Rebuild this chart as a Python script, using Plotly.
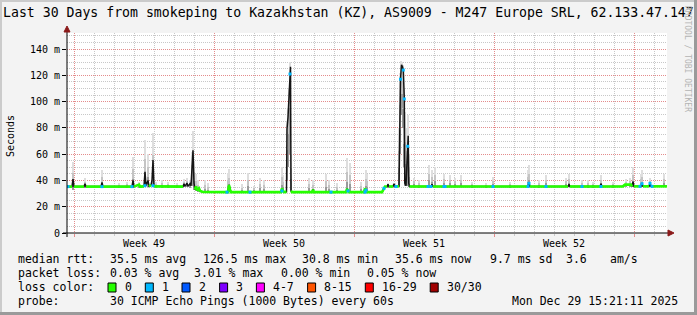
import plotly.graph_objects as go
import pandas as pd

# ---------------- data ----------------
START = pd.Timestamp("2025-11-29 15:21:11")
END = pd.Timestamp("2025-12-29 15:21:11")

# median rtt (ms) at time offsets (days since START)
med_days = [0.00, 0.25, 0.30, 0.35, 0.85, 0.90, 0.95, 1.70, 1.75, 1.80,
            3.25, 3.30, 3.35, 3.60, 3.65, 3.85, 3.90, 3.95, 4.05, 4.10,
            4.20, 4.25, 4.30, 4.35, 5.80, 5.85, 5.90, 6.00, 6.05, 6.15,
            6.20, 6.25, 6.30, 6.35, 6.40, 6.45, 6.50, 6.60, 6.65, 6.80,
            8.05, 8.10, 8.15, 8.20, 10.70, 10.75, 10.80, 10.85, 10.975, 11.00,
            11.05, 11.10, 11.15, 11.175, 11.20, 11.25, 12.25, 12.30, 12.35, 13.95,
            14.00, 14.05, 14.10, 14.85, 14.90, 14.95, 15.00, 15.75, 15.80, 15.85,
            15.90, 16.00, 16.05, 16.10, 16.30, 16.35, 16.40, 16.60, 16.625, 16.675,
            16.725, 16.775, 16.815, 16.865, 16.89, 16.95, 17.00, 17.035, 17.06, 17.085,
            17.125, 18.20, 18.25, 18.30, 23.05, 23.10, 23.15, 25.05, 25.10, 25.15,
            26.65, 26.70, 26.75, 27.80, 27.90, 28.20, 28.25, 28.30, 28.35, 28.70,
            28.75, 28.80, 29.10, 29.15, 29.20, 30.00]
med_ms = [35.3, 35.3, 41.0, 35.3, 35.3, 37.5, 35.3, 35.3, 38.5, 35.3,
          35.3, 40.0, 35.3, 36.8, 35.3, 35.5, 46.5, 36.0, 40.0, 35.5,
          36.5, 40.0, 55.5, 35.5, 35.3, 37.5, 35.5, 38.0, 35.5, 37.5,
          36.0, 47.0, 63.0, 38.0, 33.0, 35.5, 32.5, 34.0, 32.0, 31.2,
          31.1, 36.5, 33.0, 31.1, 31.1, 34.0, 32.0, 31.1, 31.3, 79.0,
          88.0, 102.0, 121.0, 126.5, 32.0, 31.1, 31.1, 33.0, 31.1, 31.1,
          33.5, 32.0, 31.1, 31.1, 34.0, 32.5, 31.1, 31.1, 32.5, 34.0,
          35.3, 35.4, 37.0, 35.4, 35.4, 37.5, 35.5, 35.5, 71.0, 117.0,
          128.0, 126.5, 124.0, 102.0, 38.0, 36.0, 54.0, 66.0, 74.0, 38.0,
          35.4, 35.4, 37.0, 35.4, 35.4, 37.8, 35.4, 35.4, 37.0, 35.4,
          35.4, 37.5, 35.4, 35.5, 36.8, 36.8, 35.5, 39.0, 35.5, 35.5,
          37.5, 35.5, 35.5, 37.8, 35.5, 35.5]

# smoke (spread of the 30 pings): low / high in ms
smoke_days = [0.30, 0.90, 1.75, 2.60, 3.00, 3.30, 3.60, 3.90, 4.05, 4.30,
              4.45, 4.75, 5.05, 5.50, 5.85, 6.00, 6.15, 6.25, 6.30, 6.35,
              6.45, 6.55, 6.90, 7.05, 8.05, 8.10, 8.75, 9.05, 9.35, 9.65,
              9.85, 10.75, 10.80, 11.00, 11.05, 11.10, 11.15, 11.175, 11.20, 12.10,
              12.30, 12.95, 13.10, 13.50, 14.00, 14.15, 14.70, 14.95, 15.00, 16.05,
              16.40, 16.625, 16.675, 16.725, 16.775, 16.815, 16.865, 16.90, 17.00, 17.06,
              17.10, 17.35, 17.60, 18.10, 18.25, 18.40, 18.85, 19.15, 19.40, 19.70,
              20.25, 20.95, 21.30, 22.15, 23.05, 23.10, 23.60, 23.95, 24.95, 25.10,
              25.75, 26.05, 26.30, 26.70, 27.30, 27.95, 28.15, 28.30, 28.70, 28.75,
              29.15, 29.85]
smoke_lo = [33, 34, 34, 35, 35, 34, 35, 35, 35, 35,
            35, 35, 35, 35, 35, 35, 35, 36, 38, 33,
            32, 31, 31, 31, 31, 32, 31, 31, 31, 31,
            31, 31, 31, 40, 50, 60, 75, 80, 33, 31,
            31, 31, 31, 31, 31, 31, 31, 31, 31, 35,
            35, 36, 60, 90, 95, 80, 50, 36, 36, 40,
            35, 35, 35, 35, 35, 35, 35, 35, 35, 35,
            35, 35, 35, 35, 35, 35, 35, 35, 35, 35,
            35, 35, 35, 35, 35, 35, 35, 35, 35, 35,
            35, 35]
smoke_hi = [54, 42, 48, 38, 38.5, 58, 39, 71, 60, 76,
            39, 40, 39, 38, 41, 42, 40, 62, 78, 55,
            45, 40, 40, 38, 46, 49, 37, 46, 36, 42,
            40, 50, 44, 85, 95, 110, 128, 130, 60, 42,
            40, 45, 40, 38, 57, 53, 39, 48, 45, 38,
            38, 80, 122, 131, 130, 128, 110, 92, 80, 90,
            60, 42, 40, 52, 48, 50, 45, 44, 42, 44,
            39, 38, 43, 39, 48, 52, 40, 44, 42, 45,
            40, 40, 39, 44, 39, 41, 42, 50.5, 45, 48,
            42, 45]

# samples with 1/30 packet loss
loss1_days = [0.05, 1.75, 3.25, 3.90, 4.30, 8.00, 9.15, 10.75, 11.15, 13.20,
              14.05, 14.90, 14.95, 15.85, 16.45, 16.675, 16.815, 16.865, 17.035, 18.05,
              18.20, 18.85, 18.90, 21.30, 23.05, 23.10, 23.95, 25.75, 26.70, 28.65,
              28.75, 29.15, 29.25]
loss1_ms = [35.3, 35.3, 35.3, 36.0, 36.0, 31.1, 31.1, 32.0, 121.0, 31.1,
            32.0, 31.1, 32.5, 34.0, 35.4, 117.0, 124.0, 102.0, 66.0, 35.4,
            35.4, 35.4, 35.4, 35.4, 35.4, 37.8, 35.4, 35.4, 35.4, 35.5,
            37.5, 37.8, 35.5]

week_labels = ["Week 49", "Week 50", "Week 51", "Week 52"]
week_centers = ["2025-12-03 12:00", "2025-12-10 12:00", "2025-12-17 12:00", "2025-12-24 12:00"]

ytick_vals = [0, 20, 40, 60, 80, 100, 120, 140]
ytick_text = ["0", "20 m", "40 m", "60 m", "80 m", "100 m", "120 m", "140 m"]

title_text = "Last 30 Days from smokeping to Kazakhstan (KZ), AS9009 - M247 Europe SRL, 62.133.47.147"
rtt_items = ["median rtt:", "35.5 ms avg", "126.5 ms max", "30.8 ms min", "35.6 ms now",
             "9.7 ms sd", "3.6", "am/s"]
loss_items = ["packet loss:", "0.03 % avg", "3.01 % max", "0.00 % min", "0.05 % now"]
loss_color_labels = ["0", "1", "2", "3", "4-7", "8-15", "16-29", "30/30"]
loss_colors = ["#26ff00", "#00b8ff", "#0059ff", "#7e00ff", "#ff00ff", "#ff5500", "#ff0000", "#a00000"]
probe_text = "30 ICMP Echo Pings (1000 Bytes) every 60s"
stamp_text = "Mon Dec 29 15:21:11 2025"

# ---------------- layout helpers ----------------
W, H = 697, 315
L, R, T, B = 67, 30, 33, 82
PW, PH = W - L - R, H - T - B
MONO = "DejaVu Sans Mono"


def fx(x):
    return (x - L) / PW


def fy(y):
    return (H - B - y) / PH


def tt(days):
    return [START + pd.Timedelta(days=d) for d in days]


fig = go.Figure()

# smoke layers (light outer, darker towards the lower part)
bar_w = 1.3 * 72 * 60 * 1000  # ~1.3 px in ms
sx = tt(smoke_days)
for frac, col in [(1.0, "#dedede"), (0.6, "#c4c4c4"), (0.3, "#9a9a9a")]:
    fig.add_trace(go.Bar(
        x=sx, base=smoke_lo,
        y=[(h - l) * frac for l, h in zip(smoke_lo, smoke_hi)],
        width=bar_w, marker=dict(color=col, line=dict(width=0)),
        showlegend=False, hoverinfo="skip"))

mx = tt(med_days)
# dark median line
fig.add_trace(go.Scatter(x=mx, y=med_ms, mode="lines",
                         line=dict(color="#151515", width=1.5),
                         showlegend=False, hoverinfo="skip"))
# green (no loss) median band at normal levels
fig.add_trace(go.Scatter(x=mx, y=[v if v <= 36.9 else None for v in med_ms],
                         mode="lines", connectgaps=False,
                         line=dict(color=loss_colors[0], width=2.6),
                         showlegend=False, hoverinfo="skip"))
# 1/30 loss samples
fig.add_trace(go.Scatter(x=tt(loss1_days), y=loss1_ms, mode="markers",
                         marker=dict(symbol="square", size=3, color=loss_colors[1],
                                     line=dict(width=0)),
                         showlegend=False, hoverinfo="skip"))

shapes = []
# outer shading border
shapes.append(dict(type="rect", xref="paper", yref="paper", x0=fx(0), x1=fx(2), y0=fy(0), y1=fy(H),
                   fillcolor="#cbcbcb", line=dict(width=0), layer="above"))
shapes.append(dict(type="rect", xref="paper", yref="paper", x0=fx(0), x1=fx(W), y0=fy(0), y1=fy(2),
                   fillcolor="#cbcbcb", line=dict(width=0), layer="above"))
shapes.append(dict(type="rect", xref="paper", yref="paper", x0=fx(W - 3), x1=fx(W), y0=fy(0), y1=fy(H),
                   fillcolor="#9a9a9a", line=dict(width=0), layer="above"))
shapes.append(dict(type="rect", xref="paper", yref="paper", x0=fx(0), x1=fx(W), y0=fy(H - 3), y1=fy(H),
                   fillcolor="#9a9a9a", line=dict(width=0), layer="above"))
# axis lines
shapes.append(dict(type="line", xref="paper", yref="paper", x0=fx(63), x1=fx(669), y0=0, y1=0,
                   line=dict(color="#000000", width=1), layer="above"))
shapes.append(dict(type="line", xref="paper", yref="paper", x0=0, x1=0, y0=fy(237), y1=fy(30),
                   line=dict(color="#000000", width=1), layer="above"))
# arrows
shapes.append(dict(type="path", xref="paper", yref="paper",
                   path="M {} {} L {} {} L {} {} Z".format(fx(668), fy(230), fx(674), fy(233), fx(668), fy(236)),
                   fillcolor="#8b1a1a", line=dict(color="#8b1a1a", width=1), layer="above"))
shapes.append(dict(type="path", xref="paper", yref="paper",
                   path="M {} {} L {} {} L {} {} Z".format(fx(64), fy(32), fx(67), fy(26), fx(70), fy(32)),
                   fillcolor="#8b1a1a", line=dict(color="#8b1a1a", width=1), layer="above"))

annotations = []


def txt(s, x, y, size=11.5, anchor="left", color="#000000", angle=0):
    annotations.append(dict(text=s, xref="paper", yref="paper", x=fx(x), y=fy(y),
                            xanchor=anchor, yanchor="middle", showarrow=False,
                            textangle=angle, font=dict(family=MONO, size=size, color=color)))


txt(title_text, 348.5, 12, size=13.2, anchor="center")
txt("Seconds", 10, 136, size=10, anchor="center", angle=-90)
txt("RRDTOOL / TOBI OETIKER", 688, 59, size=8, anchor="center", color="#b4b4b4", angle=90)

for lab, c in zip(week_labels, week_centers):
    annotations.append(dict(text=lab, xref="x", yref="paper", x=c, y=fy(243),
                            xanchor="center", yanchor="middle", showarrow=False,
                            font=dict(family=MONO, size=10, color="#000000")))

for s, x in zip(rtt_items, [16, 107.6, 200.9, 300.4, 392.9, 487.6, 564.4, 607.6]):
    txt(s, x, 259)
for s, x in zip(loss_items, [16, 107.6, 192.4, 279, 365]):
    txt(s, x, 273)
txt("loss color:", 16, 287)
for lab, col, bx in zip(loss_color_labels, loss_colors,
                        [108, 145.3, 182, 219.6, 256.4, 307.6, 365.3, 430.2]):
    shapes.append(dict(type="rect", xref="paper", yref="paper", x0=fx(bx), x1=fx(bx + 8),
                       y0=fy(283), y1=fy(292), fillcolor=col,
                       line=dict(color="#000000", width=1), layer="above"))
    txt(lab, bx + 14.5, 287)
txt("probe:", 16, 301)
txt(probe_text, 107.6, 301)
txt(stamp_text, 680, 301, anchor="right")

fig.update_layout(
    width=W, height=H,
    margin=dict(l=L, r=R, t=T, b=B, pad=0),
    paper_bgcolor="#f3f3f3", plot_bgcolor="#ffffff",
    barmode="overlay", bargap=0,
    showlegend=False,
    shapes=shapes, annotations=annotations,
    xaxis=dict(type="date", range=[START, END], showticklabels=False,
               tick0="2025-12-07", dtick=7 * 86400000,
               showgrid=True, gridcolor="#e48c8c", griddash="1px,1px", gridwidth=1,
               ticks="outside", ticklen=3, tickcolor="#e48c8c",
               minor=dict(tick0="2025-11-30", dtick=86400000, showgrid=True,
                          gridcolor="#c8c8c8", griddash="1px,1px", gridwidth=1,
                          ticks="outside", ticklen=2, tickcolor="#c8c8c8"),
               zeroline=False, showline=False, fixedrange=True),
    yaxis=dict(range=[0, PH / 1.314], tickmode="array", tickvals=ytick_vals, ticktext=ytick_text,
               showgrid=True, gridcolor="#e48c8c", griddash="1px,1px", gridwidth=1,
               ticks="outside", ticklen=4, tickcolor="#000000",
               tickfont=dict(family=MONO, size=10, color="#000000"),
               minor=dict(dtick=5, showgrid=True, gridcolor="#c8c8c8",
                          griddash="1px,1px", gridwidth=1),
               zeroline=False, showline=False, fixedrange=True),
)

fig.write_html("out.html")
